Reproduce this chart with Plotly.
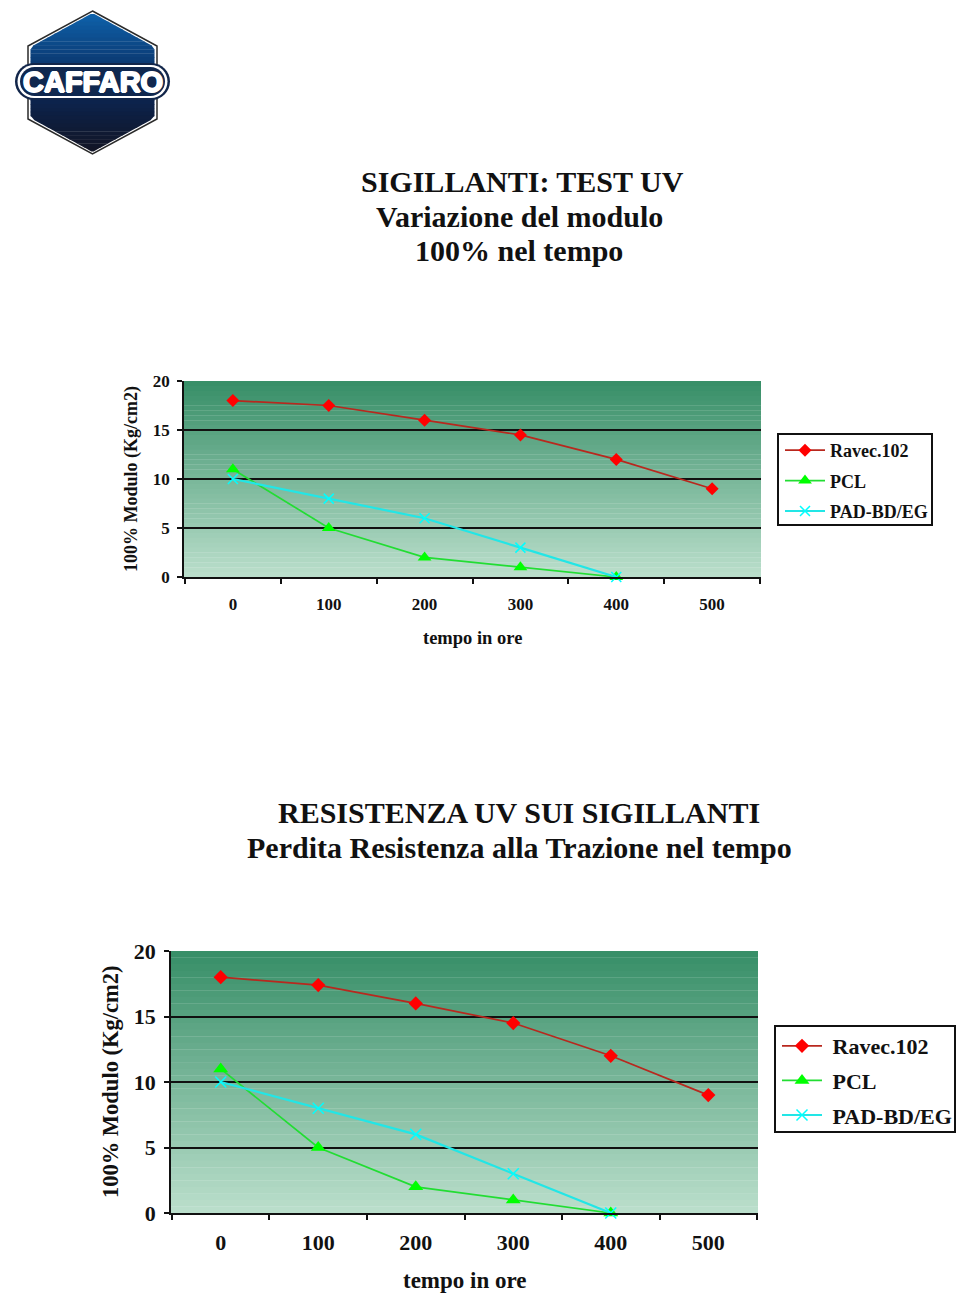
import plotly.graph_objects as go

W, H = 960, 1295
OFF = 0
hours = ["0", "100", "200", "300", "400", "500"]
ravec_1 = [18, 17.5, 16, 14.5, 12, 9]
pcl_1 = [11, 5, 2, 1, 0, None]
pad_1 = [10, 8, 6, 3, 0, None]
ravec_2 = [18, 17.4, 16, 14.5, 12, 9]
pcl_2 = [11, 5, 2, 1, 0, None]
pad_2 = [10, 8, 6, 3, 0, None]
y_ticks = [0, 5, 10, 15, 20]
titles_1 = ["SIGILLANTI: TEST UV", "Variazione del modulo", "100% nel tempo"]
titles_2 = ["RESISTENZA UV SUI SIGILLANTI", "Perdita Resistenza alla Trazione nel tempo"]
FONT = "Liberation Serif"
TXT = "#111111"


def px(x):
    return (x - OFF) / W


def py(y):
    return 1 - (y - OFF) / H


def lerp(a, b, t):
    return tuple(round(a[i] + (b[i] - a[i]) * t) for i in range(3))


def hexc(c):
    return "#%02x%02x%02x" % tuple(c)


shapes = []
annotations = []


def rect(x0, y0, x1, y1, color, line=None, lw=0):
    shapes.append(dict(type="rect", xref="paper", yref="paper", layer="below",
                       x0=px(x0), x1=px(x1), y0=py(y0), y1=py(y1),
                       fillcolor=color, line=dict(width=lw, color=line or color)))


def text(x, y, s, size, bold=False, angle=0, color=TXT, family=FONT, **fontkw):
    annotations.append(dict(x=px(x), y=py(y), xref="paper", yref="paper", text=f"<b>{s}</b>" if bold else s,
                            showarrow=False, textangle=angle, xanchor="center", yanchor="middle",
                            font=dict(family=family, size=size, color=color, **fontkw)))


def poly(points, color, line=None, lw=0):
    path = "M " + " L ".join(f"{px(a):.5f},{py(b):.5f}" for a, b in points) + " Z"
    shapes.append(dict(type="path", xref="paper", yref="paper", layer="below", path=path,
                       fillcolor=color, line=dict(width=lw, color=line or color)))


def pill(x0, y0, x1, y1, color):
    r = (y1 - y0) / 2
    k = 0.55 * r
    ym = (y0 + y1) / 2
    P = lambda a, b: f"{px(a):.5f},{py(b):.5f}"
    path = (f"M {P(x0 + r, y0)} L {P(x1 - r, y0)} C {P(x1 - r + k, y0)} {P(x1, ym - k)} {P(x1, ym)} "
            f"C {P(x1, ym + k)} {P(x1 - r + k, y1)} {P(x1 - r, y1)} L {P(x0 + r, y1)} "
            f"C {P(x0 + r - k, y1)} {P(x0, ym + k)} {P(x0, ym)} C {P(x0, ym - k)} {P(x0 + r - k, y0)} {P(x0 + r, y0)} Z")
    shapes.append(dict(type="path", xref="paper", yref="paper", layer="below", path=path,
                       fillcolor=color, line=dict(width=0)))


# Logo
def hex_half(y):
    if y < 47:
        return (y - 13) / 34 * 62
    if y <= 118:
        return 62
    return (152 - y) / 34 * 62


poly([(92.5, 11), (157, 46), (157, 119), (92.5, 154), (28, 119), (28, 46)], "#ffffff", "#2a2a2a", 1.5)
steps = 35
for i in range(steps):
    y0 = 14 + i * (151 - 14) / steps
    y1 = y0 + (151 - 14) / steps + 0.4
    ts = (y0 - 14) / 137
    if ts < 0.5:
        c = lerp((14, 96, 168), (10, 40, 90), ts / 0.5)
    else:
        c = lerp((10, 40, 90), (18, 20, 35), (ts - 0.5) / 0.5)
    a, b = hex_half(y0), hex_half(y1)
    poly([(92.5 - a, y0), (92.5 + a, y0), (92.5 + b, y1), (92.5 - b, y1)], hexc(c))
pill(15, 63, 170, 100, "#12264a")
pill(17.5, 65, 167.5, 98, "#ffffff")
pill(20, 67, 165, 96, "#10284f")
text(92.5, 82, "CAFFARO", 29, True, color="#ffffff", family="Liberation Sans",
     shadow="1px 0 0 #fff, -1px 0 0 #fff, 0 1px 0 #fff, 0 -1px 0 #fff")

# Titles
for s, yy, xx in zip(titles_1, [181, 216.5, 250], [522, 519, 519]):
    text(xx, yy, s, 30, True)
for s, yy in zip(titles_2, [812, 847]):
    text(519, yy, s, 30, True)


# Plot backgrounds
def gradient(x0, y0, x1, y1):
    n = 40
    for i in range(n):
        a = y0 + (y1 - y0) * i / n
        b = y0 + (y1 - y0) * (i + 1) / n
        rect(x0, a, x1, b + 0.3, hexc(lerp((56, 143, 104), (186, 222, 203), i / (n - 1))))


fig = go.Figure()


def panel(idx, box, series, tick_size, title_size, xlabel_xy, ylabel_x, legend_box, legend_xy, legend_size, standoff, ms, gap):
    x0, y0, x1, y1 = box
    gradient(x0, y0, x1, y1)
    rect(*legend_box, "#ffffff", "#111111", 2)
    xa, ya = ("x", "y") if idx == 1 else ("x2", "y2")
    lg = "legend" if idx == 1 else "legend2"
    styles = [("#b8281e", "#ff0000", "diamond", ms),
              ("#22dd33", "#00ff00", "triangle-up", ms + 2),
              ("#22e6e6", "#00ffff", "x-thin", ms)]
    for n, ((name, vals), (lc, mc, sym, size)) in enumerate(zip(series, styles)):
        marker = dict(symbol=sym, size=size, color=mc)
        if sym == "x-thin":
            marker["line"] = dict(width=1.5, color=mc)
        fig.add_trace(go.Scatter(x=hours, y=vals, name=name, mode="lines+markers", xaxis=xa, yaxis=ya, legend=lg,
                                 legendgroup=f"{lg}{n}",
                                 line=dict(color=lc, width=2.2 if sym == "x-thin" else 1.7), marker=marker, cliponaxis=False))
    dx = dict(domain=[px(x0), px(x1)], anchor=ya, type="category", range=[-0.51, 5.51],
              tickson="boundaries", ticks="outside", ticklen=5, tickcolor="#111", tickwidth=1.5,
              showgrid=False, showline=True, linecolor="#111", linewidth=1.5, ticklabelstandoff=standoff,
              tickfont=dict(family=FONT, size=tick_size, color=TXT), tickprefix="<b>", ticksuffix="</b>")
    dy = dict(domain=[py(y1), py(y0)], anchor=xa, range=[0, 20], tickmode="array", tickvals=y_ticks,
              ticktext=[f"<b>{v}</b>" for v in y_ticks],
              ticks="outside", ticklen=5, ticklabelstandoff=4, tickcolor="#111", tickwidth=1.5,
              showgrid=True, gridcolor="#111", gridwidth=1.5,
              showline=True, linecolor="#111", linewidth=1.5, zeroline=False,
              tickfont=dict(family=FONT, size=tick_size, color=TXT))
    k = "" if idx == 1 else "2"
    fig.update_layout(**{f"xaxis{k}": dx, f"yaxis{k}": dy})
    text(xlabel_xy[0], xlabel_xy[1], "tempo in ore", title_size + 0.5, True)
    text(ylabel_x, (y0 + y1) / 2, "100% Modulo (Kg/cm2)", title_size, True, angle=-90)
    fig.update_layout(**{lg: dict(x=px(legend_xy[0]), y=py(legend_xy[1]), xanchor="left", yanchor="top",
                                  bgcolor="rgba(0,0,0,0)", borderwidth=0,
                                  font=dict(family=FONT, size=legend_size, color=TXT),
                                  itemwidth=40, tracegroupgap=gap)})


panel(1, (184, 381, 761, 577),
      [("<b>Ravec.102</b>", ravec_1), ("<b>PCL</b>", pcl_1), ("<b>PAD-BD/EG</b>", pad_1)],
      17, 18, (472, 638), 131, (778, 434, 932, 525), (780, 432), 18, 11, 10, 4)
panel(2, (171, 951, 758, 1213),
      [("<b>Ravec.102</b>", ravec_2), ("<b>PCL</b>", pcl_2), ("<b>PAD-BD/EG</b>", pad_2)],
      22, 22.5, (465, 1280), 110, (775, 1026, 955, 1132), (777, 1025), 22, 9, 11, 3)
for tr in fig.data[3:]:
    tr.name = tr.name.replace("<b>", "<b>&nbsp;", 1)

fig.update_layout(width=W, height=H, margin=dict(l=0, r=0, t=0, b=0, autoexpand=False), paper_bgcolor="#ffffff",
                  plot_bgcolor="rgba(0,0,0,0)", shapes=shapes, annotations=annotations, showlegend=True)
fig.write_html("out.html", post_script="document.body.style.margin='0';", config={"displayModeBar": False})
